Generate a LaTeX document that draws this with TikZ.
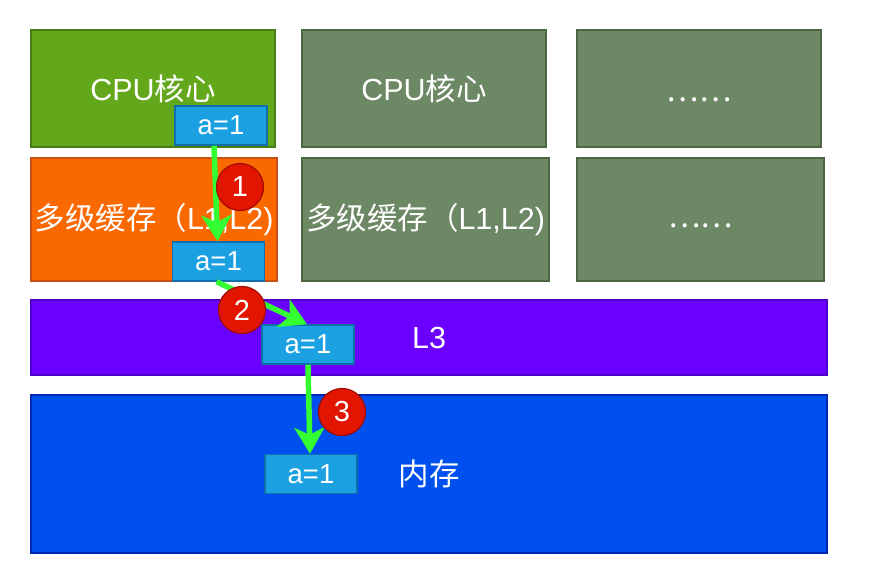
\documentclass[tikz,border=0pt]{standalone}
\usepackage{fontspec}
\setmainfont{Liberation Sans}
\newfontfamily\cjk{Noto Sans CJK SC}
\usepackage{tikz}
\usetikzlibrary{arrows.meta}
\usetikzlibrary{positioning}
\definecolor{coregreen}{RGB}{99,168,26}
\definecolor{coregreenline}{RGB}{70,125,20}
\definecolor{olivegrey}{RGB}{109,136,100}
\definecolor{olivegreyline}{RGB}{78,102,68}
\definecolor{cacheorange}{RGB}{250,104,0}
\definecolor{cacheorangeline}{RGB}{200,80,20}
\definecolor{lthreepurple}{RGB}{106,0,255}
\definecolor{lthreepurpleline}{RGB}{80,0,200}
\definecolor{memblue}{RGB}{0,80,239}
\definecolor{memblueline}{RGB}{0,40,180}
\definecolor{varblue}{RGB}{27,161,226}
\definecolor{varblueline}{RGB}{16,110,170}
\definecolor{stepred}{RGB}{226,22,0}
\definecolor{stepredline}{RGB}{160,10,0}
\definecolor{flowgreen}{RGB}{51,255,51}

\begin{document}
\begin{tikzpicture}[x=1pt, y=-1pt,
  block/.style={draw, line width=1.5pt, text=white, inner sep=0pt,
    font=\fontsize{30.5}{32}\selectfont},
  varbox/.style={draw=varblueline, fill=varblue, line width=1.5pt, text=white,
    inner sep=0pt, minimum width=92pt, minimum height=39pt,
    font=\fontsize{27.5}{29}\selectfont},
  stepdot/.style={circle, draw=stepredline, fill=stepred, line width=1.2pt,
    text=white, inner sep=0pt, minimum size=47pt,
    font=\fontsize{29}{30}\selectfont},
  flow/.style={flowgreen, line width=5.5pt,
    -{Stealth[length=26pt,width=30pt,inset=7pt]}}]
  \useasboundingbox (0,0) rectangle (870,587);
  % cores
  \node[block, fill=coregreen, draw=coregreenline, minimum width=244pt, minimum height=117pt]
    (core1) at (153,88.5) {CPU{\cjk 核心}};
  \node[block, fill=olivegrey, draw=olivegreyline, minimum width=244pt, minimum height=117pt]
    (core2) at (424,88.5) {CPU{\cjk 核心}};
  \node[block, fill=olivegrey, draw=olivegreyline, minimum width=244pt, minimum height=117pt]
    (core3) at (699,88.5) {\raisebox{-13pt}[0pt][0pt]{\cjk ……}};
  % caches
  \node[block, fill=cacheorange, draw=cacheorangeline, minimum width=246pt, minimum height=123pt]
    (cache1) at (154,219.5) {{\cjk 多级缓存（}L1,L2)};
  \node[block, fill=olivegrey, draw=olivegreyline, minimum width=247pt, minimum height=123pt]
    (cache2) at (425.5,219.5) {{\cjk 多级缓存（}L1,L2)};
  \node[block, fill=olivegrey, draw=olivegreyline, minimum width=247pt, minimum height=123pt]
    (cache3) at (700.5,219.5) {\raisebox{-8pt}[0pt][0pt]{\cjk ……}};
  % shared levels
  \node[block, fill=lthreepurple, draw=lthreepurpleline, minimum width=796pt, minimum height=75pt]
    (l3) at (429,337.5) {L3};
  \node[block, fill=memblue, draw=memblueline, minimum width=796pt, minimum height=158pt]
    (mem) at (429,474) {\cjk 内存};
  % copies of a
  \node[varbox] (va1) at (221,125.5) {a=1};
  \node[varbox] (va2) at (218.5,261.5) {a=1};
  \node[varbox] (va3) at (308,344.5) {a=1};
  \node[varbox] (va4) at (311,474) {a=1};
  % steps
  \draw[flow] ([xshift=-7pt]va1.south) -- ([xshift=-1pt]va2.north);
  \draw[flow] ([xshift=-2pt]va2.south) -- ([xshift=-1pt]va3.north);
  \draw[flow] (va3.south) -- ([xshift=-1pt]va4.north);
  \node[stepdot] (s1) at (240,187) {1};
  \node[stepdot] (s2) at (242,310) {2};
  \node[stepdot] (s3) at (342,412) {3};
\end{tikzpicture}
\end{document}
